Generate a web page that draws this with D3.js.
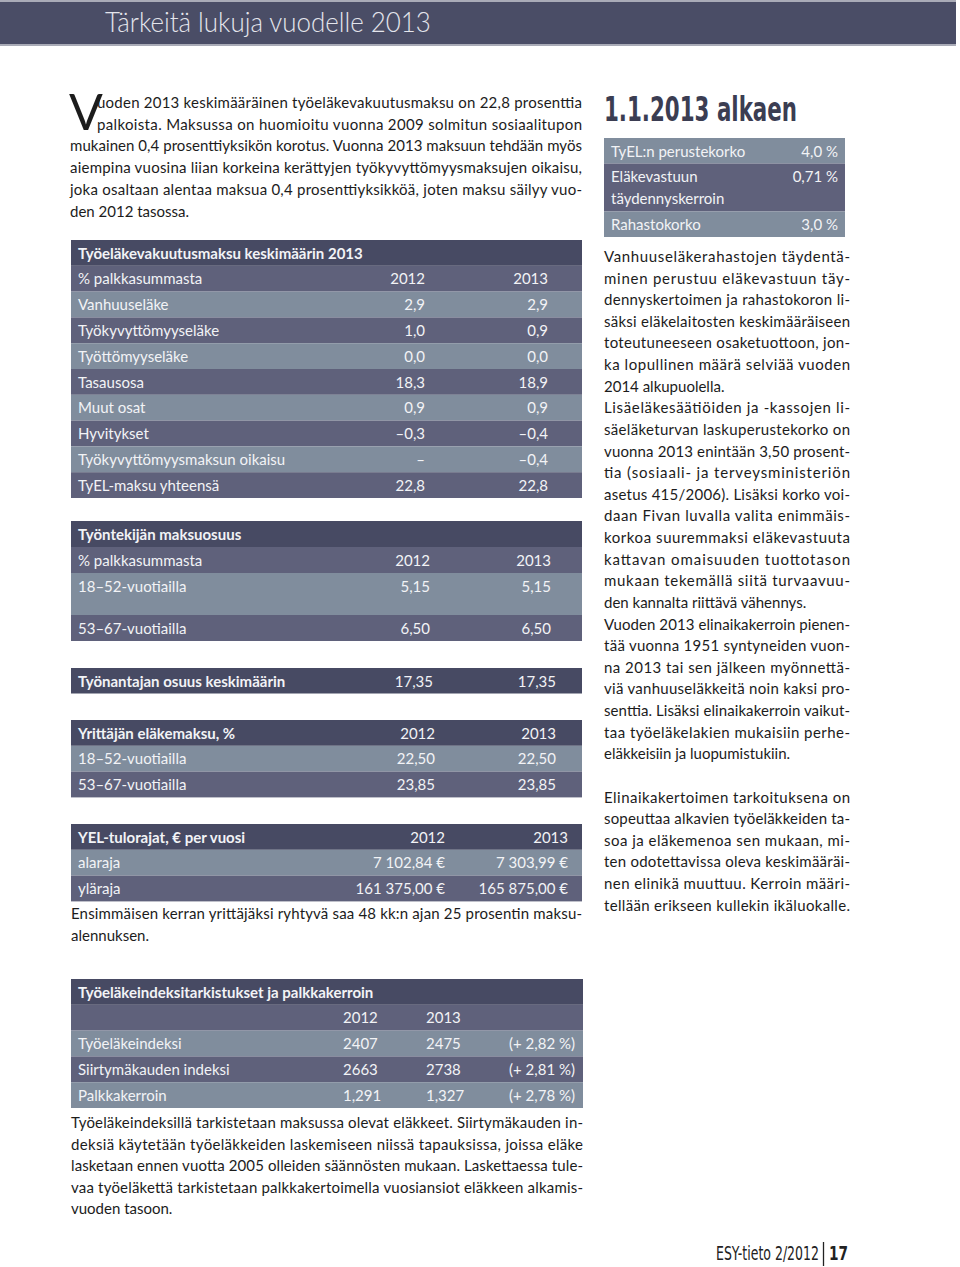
<!DOCTYPE html>
<html>
<head>
<meta charset="utf-8">
<script src="https://cdn.jsdelivr.net/npm/d3@7"></script>
<style>
  body { margin: 0; background: #fff; }
  svg { display: block; }
</style>
</head>
<body>
<svg id="page" width="960" height="1267"></svg>
<script>
// page data
const pageTitle = "Tärkeitä lukuja vuodelle 2013";

const introLines = [
  "uoden 2013 keskimääräinen työeläkevakuutusmaksu on 22,8 prosenttia",
  "palkoista. Maksussa on huomioitu vuonna 2009 solmitun sosiaalitupon",
  "mukainen 0,4 prosenttiyksikön korotus. Vuonna 2013 maksuun tehdään myös",
  "aiempina vuosina liian korkeina kerättyjen työkyvyttömyysmaksujen oikaisu,",
  "joka osaltaan alentaa maksua 0,4 prosenttiyksikköä, joten maksu säilyy vuo-",
  "den 2012 tasossa."
];

// TyEL fee table
const feeTitle = "Työeläkevakuutusmaksu keskimäärin 2013";
const feeHeader = ["% palkkasummasta", "2012", "2013"];
const feeLabels = ["Vanhuuseläke", "Työkyvyttömyyseläke", "Työttömyyseläke", "Tasausosa",
  "Muut osat", "Hyvitykset", "Työkyvyttömyysmaksun oikaisu", "TyEL-maksu yhteensä"];
const fee2012 = ["2,9", "1,0", "0,0", "18,3", "0,9", "–0,3", "–", "22,8"];
const fee2013 = ["2,9", "0,9", "0,0", "18,9", "0,9", "–0,4", "–0,4", "22,8"];

// employee share
const empTitle = "Työntekijän maksuosuus";
const empLabels = ["18–52-vuotiailla", "53–67-vuotiailla"];
const emp2012 = ["5,15", "6,50"];
const emp2013 = ["5,15", "6,50"];

// employer share
const employerLabel = "Työnantajan osuus keskimäärin";
const employerValues = ["17,35", "17,35"];

// self-employed
const yelTitle = "Yrittäjän eläkemaksu, %";
const yelLabels = ["18–52-vuotiailla", "53–67-vuotiailla"];
const yel2012 = ["22,50", "23,85"];
const yel2013 = ["22,50", "23,85"];

const limitTitle = "YEL-tulorajat, € per vuosi";
const limitLabels = ["alaraja", "yläraja"];
const limit2012 = ["7 102,84 €", "161 375,00 €"];
const limit2013 = ["7 303,99 €", "165 875,00 €"];
const limitNote = [
  "Ensimmäisen kerran yrittäjäksi ryhtyvä saa 48 kk:n ajan 25 prosentin maksu-",
  "alennuksen."
];

// index table
const indexTitle = "Työeläkeindeksitarkistukset ja palkkakerroin";
const indexLabels = ["Työeläkeindeksi", "Siirtymäkauden indeksi", "Palkkakerroin"];
const index2012 = ["2407", "2663", "1,291"];
const index2013 = ["2475", "2738", "1,327"];
const indexChange = ["(+ 2,82 %)", "(+ 2,81 %)", "(+ 2,78 %)"];
const indexNote = [
  "Työeläkeindeksillä tarkistetaan maksussa olevat eläkkeet. Siirtymäkauden in-",
  "deksiä käytetään työeläkkeiden laskemiseen niissä tapauksissa, joissa eläke",
  "lasketaan ennen vuotta 2005 olleiden säännösten mukaan. Laskettaessa tule-",
  "vaa työeläkettä tarkistetaan palkkakertoimella vuosiansiot eläkkeen alkamis-",
  "vuoden tasoon."
];

// right column
const rateTitle = "1.1.2013 alkaen";
const rateLabels = ["TyEL:n perustekorko", "Eläkevastuun\ntäydennyskerroin", "Rahastokorko"];
const rateValues = ["4,0 %", "0,71 %", "3,0 %"];

// paragraphs: "" = empty line; ends with "|" = last line of paragraph
const sideLines = [
  "Vanhuuseläkerahastojen täydentä-",
  "minen perustuu eläkevastuun täy-",
  "dennyskertoimen ja rahastokoron li-",
  "säksi eläkelaitosten keskimääräiseen",
  "toteutuneeseen osaketuottoon, jon-",
  "ka lopullinen määrä selviää vuoden",
  "2014 alkupuolella.|",
  "Lisäeläkesäätiöiden ja -kassojen li-",
  "säeläketurvan laskuperustekorko on",
  "vuonna 2013 enintään 3,50 prosent-",
  "tia (sosiaali- ja terveysministeriön",
  "asetus 415/2006). Lisäksi korko voi-",
  "daan Fivan luvalla valita enimmäis-",
  "korkoa suuremmaksi eläkevastuuta",
  "kattavan omaisuuden tuottotason",
  "mukaan tekemällä siitä turvaavuu-",
  "den kannalta riittävä vähennys.|",
  "Vuoden 2013 elinaikakerroin pienen-",
  "tää vuonna 1951 syntyneiden vuon-",
  "na 2013 tai sen jälkeen myönnettä-",
  "viä vanhuuseläkkeitä noin kaksi pro-",
  "senttia. Lisäksi elinaikakerroin vaikut-",
  "taa työeläkelakien mukaisiin perhe-",
  "eläkkeisiin ja luopumistukiin.|",
  "",
  "Elinaikakertoimen tarkoituksena on",
  "sopeuttaa alkavien työeläkkeiden ta-",
  "soa ja eläkemenoa sen mukaan, mi-",
  "ten odotettavissa oleva keskimääräi-",
  "nen elinikä muuttuu. Kerroin määri-",
  "tellään erikseen kullekin ikäluokalle."
];

const footerText = "ESY-tieto 2/2012";
const footerPage = "17";

// styles
const colors = { title: "#474a63", mid: "#5f617b", light: "#808d9d", cellText: "#f2f3f6", body: "#1c1c1c" };
const font = "Lato, 'Open Sans', sans-serif";
const narrow = "'Liberation Sans Narrow', 'DejaVu Sans Condensed', sans-serif";

const svg = d3.select("#page").style("font-family", font);

// squeeze a text horizontally so it spans exactly `width` px
function fitText(x, y, width, str, attrs) {
  const g = svg.append("g");
  const t = g.append("text").text(str);
  Object.entries(attrs).forEach(([k, v]) => t.attr(k, v));
  const natural = t.node().getComputedTextLength();
  g.attr("transform", `translate(${x},${y}) scale(${width / natural},1)`);
  return t;
}

// banner
svg.append("rect").attr("x", 0).attr("y", 0).attr("width", 956).attr("height", 46).attr("fill", "#a9abb7");
svg.append("rect").attr("x", 0).attr("y", 2).attr("width", 956).attr("height", 42).attr("fill", "#4a4d66");
fitText(105, 32, 326, pageTitle, { "font-size": 27, "font-weight": 300, fill: "#e4e5ec" });

// paragraph helper
function paragraph(lines, x0, x1, y0, step, opts = {}) {
  const g = svg.append("g");
  const data = lines.map((t, i) => {
    const last = t.endsWith("|") || i === lines.length - 1 && !opts.justifyLast;
    const xs = opts.indent && i < opts.indent.n ? opts.indent.x : x0;
    return { t: t.replace(/\|$/, ""), i, last, xs };
  }).filter(d => d.t !== "");
  const yScale = d3.scaleLinear().domain([0, 1]).range([y0, y0 + step]);
  g.selectAll("text").data(data).join("text")
    .attr("x", d => d.xs)
    .attr("y", d => yScale(d.i))
    .attr("font-size", opts.size || 15)
    .attr("fill", colors.body)
    .each(function (d) {
      const el = d3.select(this).text(d.t);
      if (!d.last) el.attr("textLength", x1 - d.xs).attr("lengthAdjust", "spacing");
    });
  return g;
}

// intro with drop cap
svg.append("text").attr("x", 69).attr("y", 130).attr("font-size", 50)
  .attr("fill", colors.body).text("V");
paragraph(introLines, 70, 582, 108, 21.7, { indent: { n: 2, x: 97 } });

// table helper
function table(spec) {
  const g = svg.append("g").attr("transform", `translate(${spec.x},${spec.y})`);
  const heights = spec.rows.map(r => r.h || 25.8);
  const tops = [0, ...d3.cumsum(heights)];
  const rows = spec.rows.map((r, i) => ({ ...r, top: tops[i], h: heights[i] }));
  const rg = g.selectAll("g.row").data(rows).join("g").attr("class", "row")
    .attr("transform", d => `translate(0,${d.top})`);
  rg.append("rect").attr("width", spec.w).attr("height", d => d.h)
    .attr("fill", d => colors[d.kind]);
  rg.each(function (r) {
    const row = d3.select(this);
    r.cells.forEach((c, ci) => {
      if (c == null) return;
      const col = spec.cols[ci];
      const t = row.append("text")
        .attr("x", col.x - spec.x)
        .attr("y", 18.5)
        .attr("text-anchor", col.anchor || "start")
        .attr("font-size", 15)
        .attr("font-weight", ci === 0 && r.bold ? 700 : 400)
        .attr("fill", colors.cellText);
      c.split("\n").forEach((line, li) => {
        t.append("tspan").attr("x", col.x - spec.x).attr("dy", li ? 22 : 0).text(line);
      });
    });
  });
  return g;
}

const leftX = 71, leftW = 511;

table({
  x: leftX, y: 240, w: leftW,
  cols: [{ x: 78 }, { x: 425, anchor: "end" }, { x: 548, anchor: "end" }],
  rows: [
    { cells: [feeTitle], kind: "title", bold: true },
    { cells: feeHeader, kind: "mid" },
    ...feeLabels.map((l, i) => ({ cells: [l, fee2012[i], fee2013[i]], kind: i % 2 ? "mid" : "light" }))
  ]
});

table({
  x: leftX, y: 521, w: leftW,
  cols: [{ x: 78 }, { x: 430, anchor: "end" }, { x: 551, anchor: "end" }],
  rows: [
    { cells: [empTitle], kind: "title", bold: true, h: 26 },
    { cells: feeHeader, kind: "mid", h: 26 },
    { cells: [empLabels[0], emp2012[0], emp2013[0]], kind: "light", h: 42 },
    { cells: [empLabels[1], emp2012[1], emp2013[1]], kind: "mid", h: 26 }
  ]
});

table({
  x: leftX, y: 668, w: leftW,
  cols: [{ x: 78 }, { x: 433, anchor: "end" }, { x: 556, anchor: "end" }],
  rows: [{ cells: [employerLabel, ...employerValues], kind: "title", bold: true, h: 25.5 }]
});

table({
  x: leftX, y: 720, w: leftW,
  cols: [{ x: 78 }, { x: 435, anchor: "end" }, { x: 556, anchor: "end" }],
  rows: [
    { cells: [yelTitle, feeHeader[1], feeHeader[2]], kind: "title", bold: true },
    ...yelLabels.map((l, i) => ({ cells: [l, yel2012[i], yel2013[i]], kind: i ? "mid" : "light" }))
  ]
});

table({
  x: leftX, y: 824, w: leftW,
  cols: [{ x: 78 }, { x: 445, anchor: "end" }, { x: 568, anchor: "end" }],
  rows: [
    { cells: [limitTitle, feeHeader[1], feeHeader[2]], kind: "title", bold: true },
    ...limitLabels.map((l, i) => ({ cells: [l, limit2012[i], limit2013[i]], kind: i ? "mid" : "light" }))
  ]
});
paragraph(limitNote, 71, 582, 919, 21.7);

table({
  x: leftX, y: 979, w: 512,
  cols: [{ x: 78 }, { x: 343 }, { x: 426 }, { x: 575, anchor: "end" }],
  rows: [
    { cells: [indexTitle], kind: "title", bold: true },
    { cells: [null, feeHeader[1], feeHeader[2]], kind: "mid" },
    ...indexLabels.map((l, i) => ({ cells: [l, index2012[i], index2013[i], indexChange[i]], kind: i % 2 ? "mid" : "light" }))
  ]
});
paragraph(indexNote, 71, 583, 1128, 21.6);

// right column
fitText(604, 121, 193, rateTitle, { "font-family": narrow, "font-size": 33, "font-weight": 700, fill: "#3b3d52" });

table({
  x: 604, y: 138, w: 241,
  cols: [{ x: 611 }, { x: 838, anchor: "end" }],
  rows: rateLabels.map((l, i) => ({ cells: [l, rateValues[i]], kind: i === 1 ? "mid" : "light", h: i === 1 ? 48 : 25.5 }))
});

paragraph(sideLines, 604, 850, 262, 21.62, { justifyLast: true });

// footer
fitText(716, 1260, 103, footerText, { "font-family": narrow, "font-size": 20, fill: "#222" });
svg.append("line").attr("x1", 823.5).attr("x2", 823.5).attr("y1", 1242).attr("y2", 1266)
  .attr("stroke", "#222").attr("stroke-width", 1.3);
fitText(829, 1260, 19, footerPage, { "font-family": narrow, "font-size": 20, "font-weight": 700, fill: "#222" });
</script>
</body>
</html>
